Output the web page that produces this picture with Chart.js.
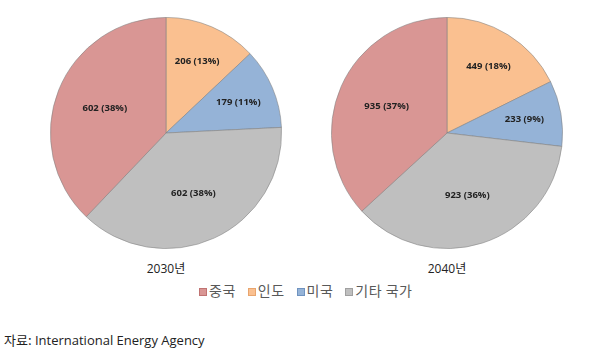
<!DOCTYPE html>
<html><head><meta charset="utf-8">
<script src="https://cdn.jsdelivr.net/npm/chart.js@4/dist/chart.umd.min.js"></script>
<style>
html,body{margin:0;padding:0;background:#fff;width:616px;height:354px;overflow:hidden;font-family:"Open Sans","Noto Sans CJK KR",sans-serif;}
.box{position:absolute;}
.yr{position:absolute;top:259px;font-size:12px;color:#222;width:80px;text-align:center;font-family:"Open Sans","Noto Sans CJK KR",sans-serif;}
#legend{position:absolute;top:282px;left:199px;font-size:14px;line-height:16px;color:#595959;white-space:nowrap;font-family:"Noto Sans CJK KR",sans-serif;letter-spacing:0.5px;}
#legend span.it{margin-right:12px;}
#legend i{display:inline-block;width:6px;height:6px;margin-right:2px;vertical-align:0px;}
#src{position:absolute;left:4px;top:330px;font-size:13px;color:#222;font-family:"Open Sans","Noto Sans CJK KR",sans-serif;}
#src .k{font-family:"Noto Sans CJK KR",sans-serif;}
</style></head><body>
<div class="box" style="left:50px;top:17px;width:232px;height:232px;"><canvas id="c1"></canvas></div>
<div class="box" style="left:331px;top:17px;width:232px;height:232px;"><canvas id="c2"></canvas></div>
<div class="yr" id="y1" style="left:126px;"></div>
<div class="yr" id="y2" style="left:407px;"></div>
<div id="legend"></div>
<div id="src"><span class="k">자료:</span> International Energy Agency</div>
<script>
const categories = ["인도", "미국", "기타 국가", "중국"];
const legendOrder = ["중국", "인도", "미국", "기타 국가"];
const years = ["2030년", "2040년"];
const values2030 = [206, 179, 602, 602];
const values2040 = [449, 233, 923, 935];
const percents2030 = [13, 11, 38, 38];
const percents2040 = [18, 9, 36, 37];
const colors = {"인도":"#FAC090","미국":"#95B3D7","기타 국가":"#BFBFBF","중국":"#D99694"};
const borders = {"인도":"#E8A56E","미국":"#6F93C0","기타 국가":"#A0A0A0","중국":"#C07372"};

const labelPlugin = {
  id:'sliceLabels',
  afterDatasetsDraw(chart){
    const ctx = chart.ctx;
    const meta = chart.getDatasetMeta(0);
    const ds = chart.data.datasets[0];
    const total = ds.data.reduce((a,b)=>a+b,0);
    ctx.save();
    ctx.font = 'bold 9.5px "Open Sans", sans-serif';
    ctx.fillStyle = '#222';
    ctx.textAlign = 'center';
    ctx.textBaseline = 'middle';
    meta.data.forEach((arc,i)=>{
      const p = arc.getProps(['x','y','startAngle','endAngle','outerRadius'], true);
      const mid = (p.startAngle + p.endAngle)/2;
      const f = ds.data[i]/total < 0.25 ? 0.68 : 0.57;
      const r = p.outerRadius * f;
      ctx.fillText(ds.data[i] + ' (' + ds.pct[i] + '%)', p.x + Math.cos(mid)*r, p.y + Math.sin(mid)*r);
    });
    ctx.restore();
  }
};

function makePie(id, vals, pcts){
  new Chart(document.getElementById(id), {
    type:'pie',
    data:{labels:categories, datasets:[{data:vals, pct:pcts,
      backgroundColor:categories.map(c=>colors[c]),
      borderColor:'rgba(130,130,130,0.7)', borderWidth:0.8}]},
    options:{responsive:true, maintainAspectRatio:false, animation:false,
      layout:{padding:0},
      plugins:{legend:{display:false}, tooltip:{enabled:false}}},
    plugins:[labelPlugin]
  });
}
makePie('c1', values2030, percents2030);
makePie('c2', values2040, percents2040);
document.getElementById('y1').textContent = years[0];
document.getElementById('y2').textContent = years[1];
document.getElementById('legend').innerHTML = legendOrder.map(c=>
  '<span class="it"><i style="background:'+colors[c]+';border:1px solid '+borders[c]+'"></i>'+c+'</span>').join('');
</script>
</body></html>
